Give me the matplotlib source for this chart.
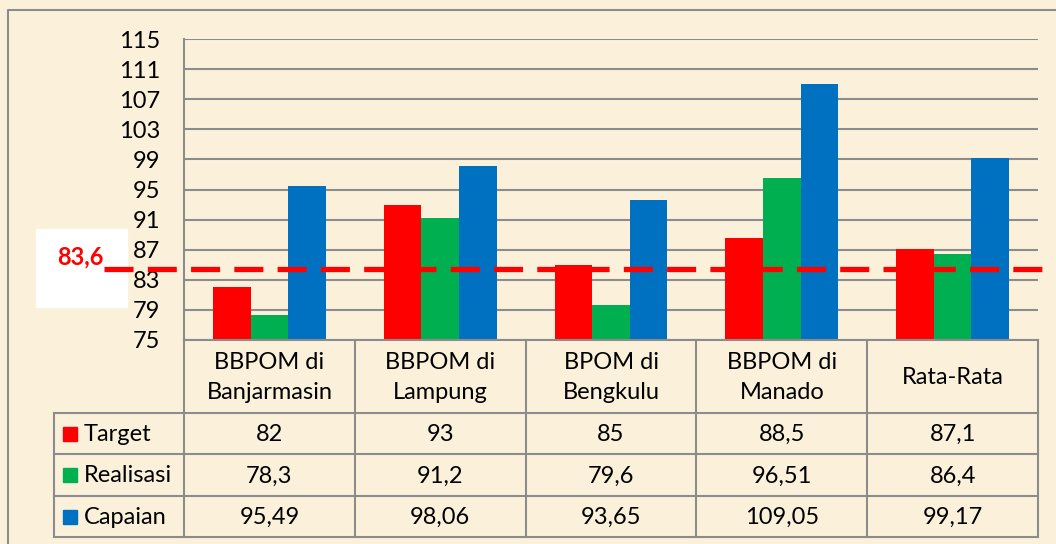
import matplotlib
matplotlib.use("Agg")
import matplotlib.pyplot as plt
from matplotlib.patches import Rectangle

# Data
categories = ["BBPOM di\nBanjarmasin", "BBPOM di\nLampung", "BPOM di\nBengkulu",
              "BBPOM di\nManado", "Rata-Rata"]
series_names = ["Target", "Realisasi", "Capaian"]
target = [82, 93, 85, 88.5, 87.1]
realisasi = [78.3, 91.2, 79.6, 96.51, 86.4]
capaian = [95.49, 98.06, 93.65, 109.05, 99.17]
target_txt = ["82", "93", "85", "88,5", "87,1"]
realisasi_txt = ["78,3", "91,2", "79,6", "96,51", "86,4"]
capaian_txt = ["95,49", "98,06", "93,65", "109,05", "99,17"]
yticks = list(range(75, 116, 4))
ref_label = "83,6"
ref_line_y = 84.4  # where the dashed line sits in the picture

COLORS = ["#FF0000", "#00B050", "#0070C0"]
BG = "#FBF1DB"
GRID = "#8C8C8C"
FONT = "Lato"
FS = 17

W, H = 1056, 544
fig = plt.figure(figsize=(W / 100, H / 100), dpi=100)
fig.patch.set_facecolor(BG)

# pixel geometry
px_left, px_right, px_top, px_bottom = 184, 1038, 39, 340

def fx(x):
    return x / W

def fy(y):
    return 1 - y / H

ax = fig.add_axes([fx(px_left), fy(px_bottom), fx(px_right - px_left), (px_bottom - px_top) / H])
ax.set_facecolor("none")
ax.set_xlim(-0.5, len(categories) - 0.5)
ax.set_ylim(75, 115)
ax.set_yticks(yticks)
ax.yaxis.grid(True, color=GRID, linewidth=1.5)
ax.set_axisbelow(True)
for s in ["top", "right", "bottom"]:
    ax.spines[s].set_visible(False)
ax.spines["left"].set_color(GRID)
ax.spines["left"].set_linewidth(1.5)
ax.tick_params(axis="y", length=0, pad=17, labelsize=FS)
ax.tick_params(axis="x", length=0, labelbottom=False)
for lab in ax.get_yticklabels():
    lab.set_fontfamily(FONT)

bw = 0.22
xs = range(len(categories))
for k, vals in enumerate([target, realisasi, capaian]):
    ax.bar([x + (k - 1) * bw for x in xs], [v - 75 for v in vals], bottom=75,
           width=bw, color=COLORS[k], zorder=3)

# overlay in pixel coordinates for table, frame, dashed line
ov = fig.add_axes([0, 0, 1, 1])
ov.set_xlim(0, W)
ov.set_ylim(H, 0)
ov.axis("off")
ov.patch.set_alpha(0)

# outer frame
ov.plot([8, 8, W], [H, 10, 10], color=GRID, lw=1.5)

col_w = (px_right - px_left) / len(categories)
row_y = [340, 413, 454, 496, 537]
lab_left = 54

# table lines
for y in row_y[1:]:
    ov.plot([lab_left, px_right], [y, y], color=GRID, lw=1.5)
ov.plot([px_left, px_right], [row_y[0], row_y[0]], color=GRID, lw=1.5)
for i in range(len(categories) + 1):
    x = px_left + i * col_w
    ov.plot([x, x], [row_y[0], row_y[-1]], color=GRID, lw=1.5)
ov.plot([lab_left, lab_left], [row_y[1], row_y[-1]], color=GRID, lw=1.5)

# header
for i, c in enumerate(categories):
    ov.text(px_left + (i + 0.5) * col_w, (row_y[0] + row_y[1]) / 2 + 1, c,
            ha="center", va="center", fontsize=FS, family=FONT, linespacing=1.5)

# rows
for r, (name, texts) in enumerate(zip(series_names, [target_txt, realisasi_txt, capaian_txt])):
    yc = (row_y[r + 1] + row_y[r + 2]) / 2
    ov.add_patch(Rectangle((63, yc - 7), 14, 14, color=COLORS[r]))
    ov.text(84, yc + 1, name, ha="left", va="center", fontsize=FS, family=FONT)
    for i, t in enumerate(texts):
        ov.text(px_left + (i + 0.5) * col_w, yc + 1, t, ha="center", va="center",
                fontsize=FS, family=FONT)

# reference line and label
y_ref = px_bottom - (ref_line_y - 75) / 40 * (px_bottom - px_top)
ov.add_patch(Rectangle((36, 229), 91, 78, color="white", zorder=4))
ov.text(103, 257, ref_label, ha="right", va="center", color="#FF0000",
        fontsize=FS, fontweight="bold", family=FONT, zorder=5)
ov.plot([104, 1047], [y_ref, y_ref], color="#FF0000", lw=3.8,
        dashes=(5.5, 2.7), zorder=6)

fig.savefig("out.png", dpi=100, facecolor=BG)
